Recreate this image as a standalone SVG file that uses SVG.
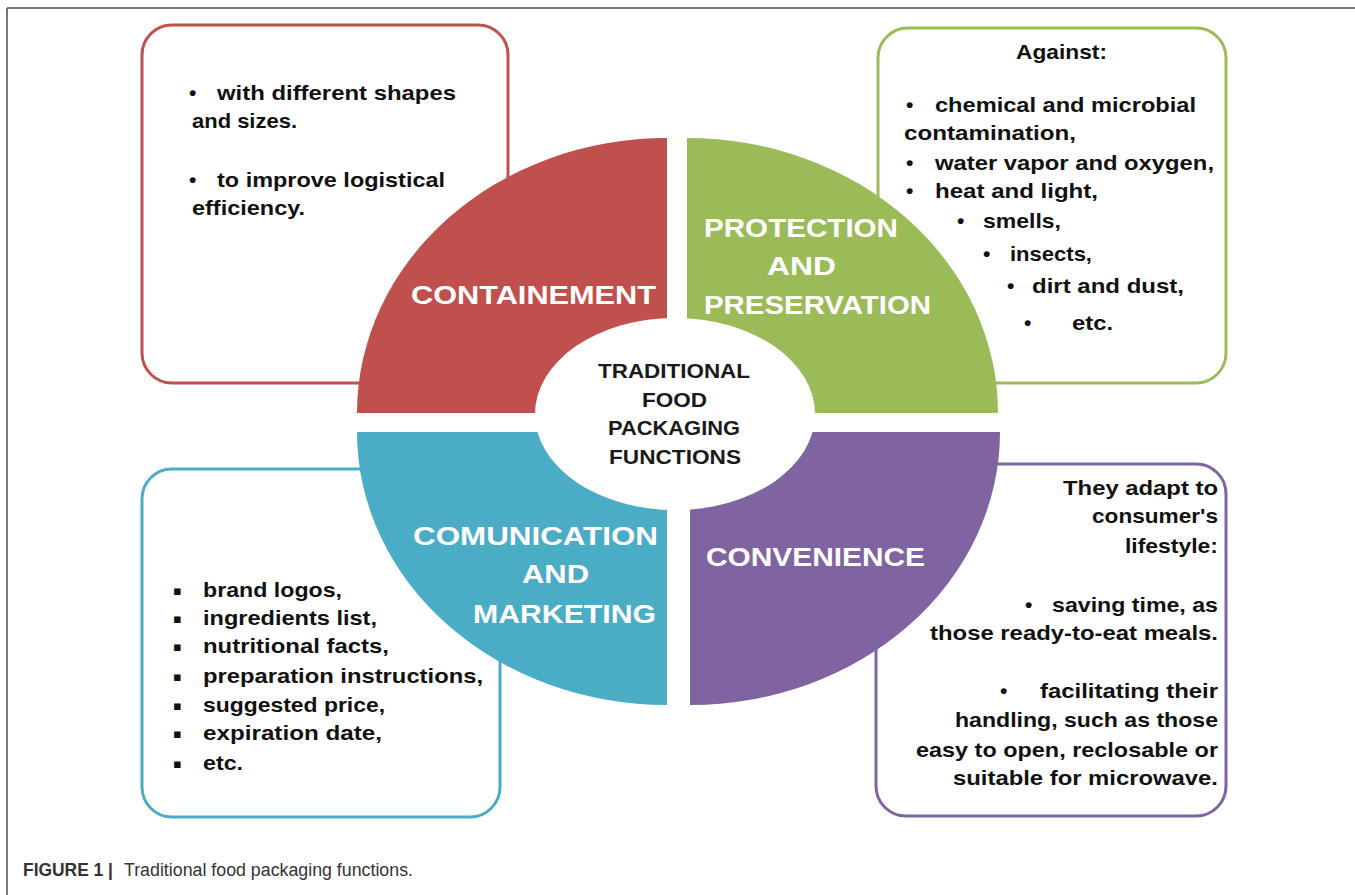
<svg xmlns="http://www.w3.org/2000/svg" width="1355" height="895" viewBox="0 0 1355 895">
<style>
  .frame { stroke: #4d4d4d; stroke-width: 1.5; fill: none; }
  .box { fill: #ffffff; stroke-width: 3; }
  .t { font-family: "Liberation Sans", Arial, sans-serif; font-weight: bold; font-size: 21px; fill: #111111; }
  .lbl { font-family: "Liberation Sans", Arial, sans-serif; font-weight: bold; font-size: 26px; fill: #ffffff; }
  .ctr { font-family: "Liberation Sans", Arial, sans-serif; font-weight: bold; font-size: 21px; fill: #1a1a1a; }
  .sq { font-family: "DejaVu Sans", sans-serif; font-size: 13px; fill: #111111; }
  .cap { font-family: "Liberation Sans", Arial, sans-serif; font-size: 18px; fill: #333333; }
</style>
<rect x="0" y="0" width="1355" height="895" fill="#ffffff"/>
<g id="frame">
  <line class="frame" x1="7" y1="8" x2="1355" y2="8"/>
  <line class="frame" x1="7" y1="8" x2="7" y2="895"/>
</g>

<g id="box-containement">
  <rect class="box" x="142" y="25" width="366" height="358" rx="30" ry="30" stroke="#C0504D"/>
  <text class="t" x="189" y="100">•</text>
  <text class="t" x="217" y="100" textLength="239" lengthAdjust="spacingAndGlyphs">with different shapes</text>
  <text class="t" x="192" y="128" textLength="105" lengthAdjust="spacingAndGlyphs">and sizes.</text>
  <text class="t" x="189" y="187">•</text>
  <text class="t" x="217" y="187" textLength="228" lengthAdjust="spacingAndGlyphs">to improve logistical</text>
  <text class="t" x="192" y="215" textLength="113" lengthAdjust="spacingAndGlyphs">efficiency.</text>
</g>

<g id="box-protection">
  <rect class="box" x="878" y="28" width="348" height="355" rx="30" ry="30" stroke="#9BBB59"/>
  <text class="t" x="1016" y="59" textLength="91" lengthAdjust="spacingAndGlyphs">Against:</text>
  <text class="t" x="906" y="112">•</text>
  <text class="t" x="935" y="112" textLength="261" lengthAdjust="spacingAndGlyphs">chemical and microbial</text>
  <text class="t" x="904" y="140" textLength="172" lengthAdjust="spacingAndGlyphs">contamination,</text>
  <text class="t" x="906" y="170">•</text>
  <text class="t" x="935" y="170" textLength="279" lengthAdjust="spacingAndGlyphs">water vapor and oxygen,</text>
  <text class="t" x="906" y="198">•</text>
  <text class="t" x="935" y="198" textLength="163" lengthAdjust="spacingAndGlyphs">heat and light,</text>
  <text class="t" x="957" y="228">•</text>
  <text class="t" x="983" y="228" textLength="78" lengthAdjust="spacingAndGlyphs">smells,</text>
  <text class="t" x="983" y="261">•</text>
  <text class="t" x="1010" y="261" textLength="82" lengthAdjust="spacingAndGlyphs">insects,</text>
  <text class="t" x="1007" y="293">•</text>
  <text class="t" x="1032" y="293" textLength="152" lengthAdjust="spacingAndGlyphs">dirt and dust,</text>
  <text class="t" x="1024" y="330">•</text>
  <text class="t" x="1072" y="330" textLength="41" lengthAdjust="spacingAndGlyphs">etc.</text>
</g>

<g id="box-communication">
  <rect class="box" x="142" y="469" width="358" height="348" rx="30" ry="30" stroke="#4BACC6"/>
  <text class="sq" x="173" y="595">▪</text>
  <text class="t" x="203" y="597" textLength="139" lengthAdjust="spacingAndGlyphs">brand logos,</text>
  <text class="sq" x="173" y="623">▪</text>
  <text class="t" x="203" y="625" textLength="174" lengthAdjust="spacingAndGlyphs">ingredients list,</text>
  <text class="sq" x="173" y="651">▪</text>
  <text class="t" x="203" y="653" textLength="186" lengthAdjust="spacingAndGlyphs">nutritional facts,</text>
  <text class="sq" x="173" y="681">▪</text>
  <text class="t" x="203" y="683" textLength="280" lengthAdjust="spacingAndGlyphs">preparation instructions,</text>
  <text class="sq" x="173" y="710">▪</text>
  <text class="t" x="203" y="712" textLength="182" lengthAdjust="spacingAndGlyphs">suggested price,</text>
  <text class="sq" x="173" y="738">▪</text>
  <text class="t" x="203" y="740" textLength="179" lengthAdjust="spacingAndGlyphs">expiration date,</text>
  <text class="sq" x="173" y="768">▪</text>
  <text class="t" x="203" y="770" textLength="40" lengthAdjust="spacingAndGlyphs">etc.</text>
</g>

<g id="box-convenience">
  <rect class="box" x="876" y="464" width="350" height="352" rx="30" ry="30" stroke="#8064A2"/>
  <text class="t" x="1063" y="495" textLength="155" lengthAdjust="spacingAndGlyphs">They adapt to</text>
  <text class="t" x="1092" y="523" textLength="126" lengthAdjust="spacingAndGlyphs">consumer's</text>
  <text class="t" x="1125" y="553" textLength="93" lengthAdjust="spacingAndGlyphs">lifestyle:</text>
  <text class="t" x="1025" y="612">•</text>
  <text class="t" x="1052" y="612" textLength="166" lengthAdjust="spacingAndGlyphs">saving time, as</text>
  <text class="t" x="930" y="640" textLength="288" lengthAdjust="spacingAndGlyphs">those ready-to-eat meals.</text>
  <text class="t" x="1000" y="698">•</text>
  <text class="t" x="1040" y="698" textLength="178" lengthAdjust="spacingAndGlyphs">facilitating their</text>
  <text class="t" x="955" y="727" textLength="263" lengthAdjust="spacingAndGlyphs">handling, such as those</text>
  <text class="t" x="916" y="757" textLength="302" lengthAdjust="spacingAndGlyphs">easy to open, reclosable or</text>
  <text class="t" x="953" y="785" textLength="265" lengthAdjust="spacingAndGlyphs">suitable for microwave.</text>
</g>

<g id="quadrant-containement">
  <path d="M667,413 L357,413 A310,275 0 0 1 667,138 Z" fill="#C0504D"/>
  <text class="lbl" x="411" y="304" textLength="245" lengthAdjust="spacingAndGlyphs">CONTAINEMENT</text>
</g>
<g id="quadrant-protection">
  <path d="M687,413 L687,138 A311,275 0 0 1 998,413 Z" fill="#9BBB59"/>
  <text class="lbl" x="704" y="237" textLength="194" lengthAdjust="spacingAndGlyphs">PROTECTION</text>
  <text class="lbl" x="767" y="275" textLength="69" lengthAdjust="spacingAndGlyphs">AND</text>
  <text class="lbl" x="704" y="314" textLength="227" lengthAdjust="spacingAndGlyphs">PRESERVATION</text>
</g>
<g id="quadrant-communication">
  <path d="M667,432 L667,705 A310,273 0 0 1 357,432 Z" fill="#4BACC6"/>
  <text class="lbl" x="413" y="545" textLength="245" lengthAdjust="spacingAndGlyphs">COMUNICATION</text>
  <text class="lbl" x="522" y="583" textLength="67" lengthAdjust="spacingAndGlyphs">AND</text>
  <text class="lbl" x="473" y="623" textLength="183" lengthAdjust="spacingAndGlyphs">MARKETING</text>
</g>
<g id="quadrant-convenience">
  <path d="M690,432 L1000,432 A310,273 0 0 1 690,705 Z" fill="#8064A2"/>
  <text class="lbl" x="706" y="566" textLength="219" lengthAdjust="spacingAndGlyphs">CONVENIENCE</text>
</g>

<g id="center">
  <ellipse cx="675" cy="414" rx="140" ry="96" fill="#ffffff"/>
  <text class="ctr" x="598" y="378" textLength="152" lengthAdjust="spacingAndGlyphs">TRADITIONAL</text>
  <text class="ctr" x="642" y="407" textLength="65" lengthAdjust="spacingAndGlyphs">FOOD</text>
  <text class="ctr" x="608" y="435" textLength="132" lengthAdjust="spacingAndGlyphs">PACKAGING</text>
  <text class="ctr" x="609" y="464" textLength="132" lengthAdjust="spacingAndGlyphs">FUNCTIONS</text>
</g>

<g id="caption">
  <text class="cap" x="23" y="876" font-weight="bold" fill="#222222" textLength="90" lengthAdjust="spacingAndGlyphs">FIGURE 1 |</text>
  <text class="cap" x="124" y="876" textLength="289" lengthAdjust="spacingAndGlyphs">Traditional food packaging functions.</text>
</g>
</svg>
